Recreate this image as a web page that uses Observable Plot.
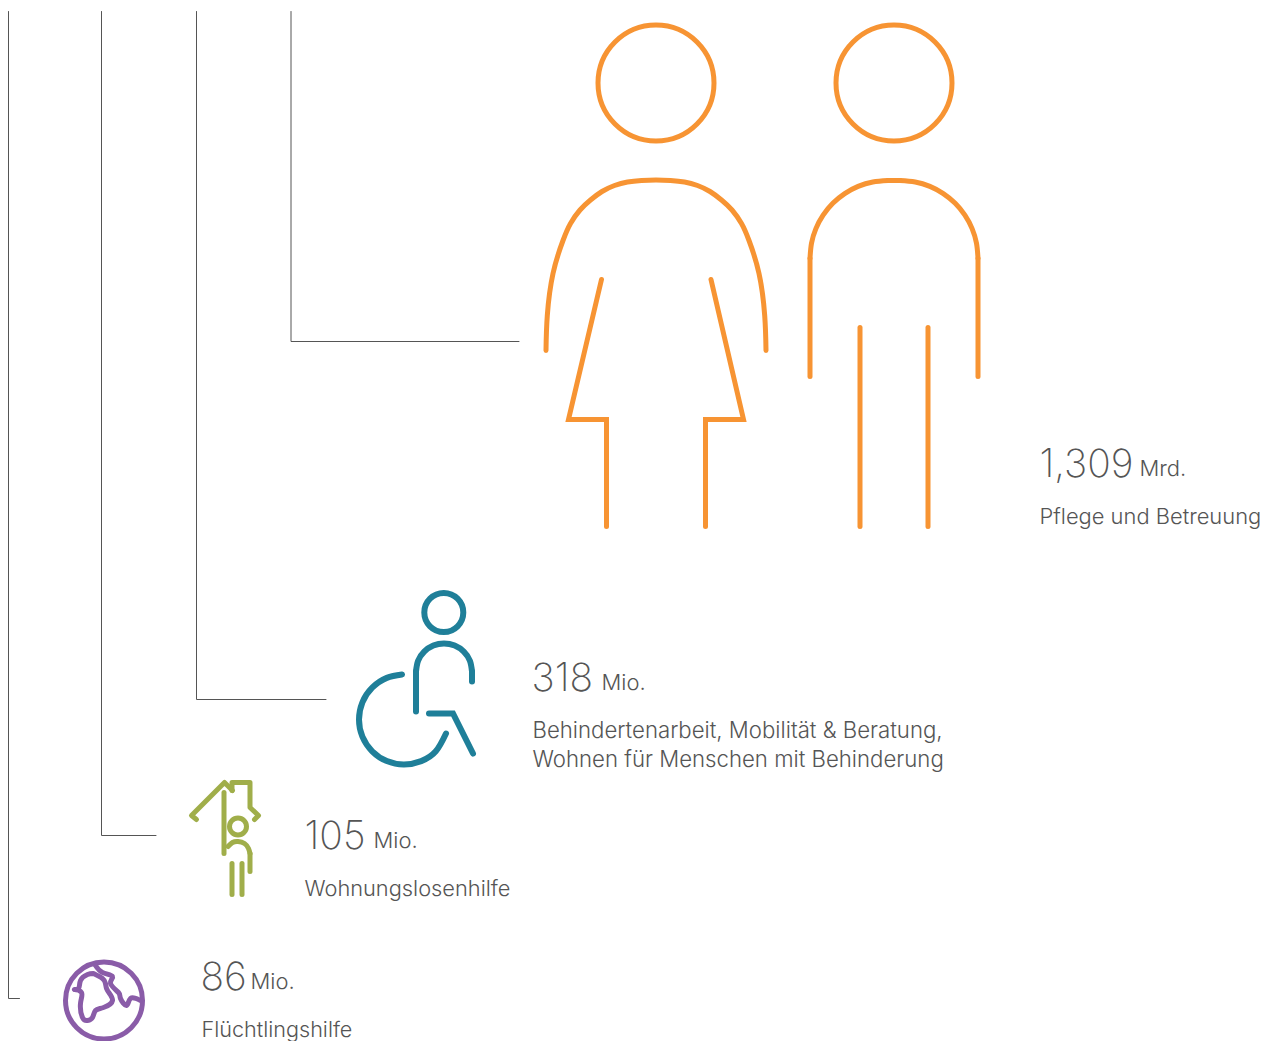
<!DOCTYPE html>
<html lang="de">
<head>
<meta charset="utf-8">
<script src="https://cdn.jsdelivr.net/npm/d3@7"></script>
<script src="https://cdn.jsdelivr.net/npm/@observablehq/plot@0.6"></script>
<style>
html,body{margin:0;padding:0;background:#fff;overflow:hidden}
svg{display:block}
</style>
</head>
<body>
<div id="chart"></div>
<script>
// Values and labels
const amounts = ["1,309", "318", "105", "86"];
const units = ["Mrd.", "Mio.", "Mio.", "Mio."];
const labels = [
  ["Pflege und Betreuung"],
  ["Behindertenarbeit, Mobilität & Beratung,", "Wohnen für Menschen mit Behinderung"],
  ["Wohnungslosenhilfe"],
  ["Flüchtlingshilfe"]
];

// Pictogram outlines and connectors
const connectors = [
  [[8,11],[8,998],[19,998]],
  [[101,11],[101,835],[155.5,835]],
  [[196,11],[196,699],[325.5,699]],
  [[290.5,11],[290.5,341],[518.5,341]]
];
const careHeads = [[655.5,82.5],[893.5,82.5]];
const careCurves = [
  [[545.5,350],[546.8,315],[552.5,273],[562.5,240],[570,223],[579.5,209.5],[590,199.5],[601.5,191],[614,185],[627,181.5],[641,180],[655.5,179.5],[670,180],[684,181.5],[697,185],[709.5,191],[721,199.5],[731.5,209.5],[741,223],[748.5,240],[758.5,273],[764.2,315],[765.5,350]],
  [[809.5,258],[811,242.8],[815.4,228.1],[822.6,214.7],[832.3,202.8],[844.2,193.1],[857.6,185.9],[872.3,181.5],[887.5,180]],
  [[899.5,180],[914.7,181.5],[929.4,185.9],[942.8,193.1],[954.7,202.8],[964.4,214.7],[971.6,228.1],[976,242.8],[977.5,258]]
];
const careLines = [
  [[601,279],[568,419],[606,419],[606,526]],
  [[710.5,279],[743,419],[705,419],[705,526]],
  [[809.5,258],[809.5,376]],
  [[977.5,258],[977.5,376]],
  [[887.5,180],[899.5,180]],
  [[859.5,327],[859.5,526]],
  [[927.5,327],[927.5,526]]
];
const disabilityHead = [[443.3,612]];
const disabilityCurves = [
  [[415.5,671],[417.6,660.3],[423.7,651.2],[432.8,645.1],[443.5,643],[454.2,645.1],[463.3,651.2],[469.4,660.3],[471.5,671]],
  [[401.5,674],[386.3,677.4],[371.7,687.2],[361.9,701.8],[358.5,719],[361.9,736.2],[371.7,750.8],[386.3,760.6],[403.5,764],[420.7,760.6],[435.3,750.8],[445.5,733]]
];
const disabilityLines = [
  [[415.5,671],[415.5,711]],
  [[471.5,671],[471.5,681]],
  [[428.5,713],[452.5,713],[472.5,753]]
];
const housingHead = [[237.5,826]];
const housingCurves = [
  [[227.5,846],[232,842],[237.5,841],[244,843],[248,848],[249.5,853]]
];
const housingLines = [
  [[196,819],[191,815],[224,782],[232,790]],
  [[231.5,790],[231.5,782],[249.5,782],[249.5,807],[258,815],[254,819]],
  [[223.5,792],[223.5,853]],
  [[249.5,853],[249.5,871]],
  [[231.5,863],[231.5,894]],
  [[241.5,863],[241.5,894]]
];
const globeRing = [[103.5,1000]];
const globeCurves = [
  [[93,973],[87,974],[80,980],[78,988],[74,989],[81,992],[80,1003],[82,1017],[87,1020],[92,1017],[95,1010],[103,1007],[112,1000],[107,990],[105,983],[102,978],[93,973]],
  [[95,965],[102,972],[112,976],[110,983],[118,992],[120,998],[126,1005],[130,998],[140,1000]]
];

// Layout of the text blocks
const amountAnchors = [[1039,476],[531,690],[304,848],[200,989]];
const unitAnchors = [[1139,475],[601,689],[373,847],[250,988]];
const labelAnchors = [[1039,523],[532,737],[304,895],[201,1036]];
const labelSizes = [21.9, 22.2, 21.8, 21.6];
const lineGap = 29.5;
const ink = "#555555";
const font = "Inter, sans-serif";
const colors = {care:"#F79433", disability:"#1F7F99", housing:"#A0AE4A", globe:"#8A5CA8"};

const pathRows = paths => paths.flatMap((p, i) => p.map(([x, y]) => ({x, y, i})));
const drawn = (paths, stroke, strokeWidth, curve = "linear", strokeLinejoin = "miter") =>
  Plot.line(pathRows(paths), {x: "x", y: "y", z: "i", stroke, strokeWidth, curve,
    strokeLinecap: "round", strokeLinejoin, strokeMiterlimit: 8});
const ring = (centres, r, stroke, strokeWidth) =>
  Plot.dot(centres, {x: d => d[0], y: d => d[1], r, stroke, strokeWidth, fill: "none"});

const amountRows = amounts.map((t, i) => ({t, x: amountAnchors[i][0], y: amountAnchors[i][1]}));
const unitRows = units.map((t, i) => ({t, x: unitAnchors[i][0], y: unitAnchors[i][1]}));
const labelRows = labels.flatMap((ls, i) => ls.map((t, j) => ({
  t, size: labelSizes[i], x: labelAnchors[i][0], y: labelAnchors[i][1] + j * lineGap})));
const textMark = (rows, fontSize, fontWeight = 300) => Plot.text(rows, {x: "x", y: "y", text: "t", fill: ink, fontSize,
  fontFamily: font, fontWeight, textAnchor: "start", lineAnchor: "bottom"});

const plot = Plot.plot({
  width: 1266, height: 1041,
  margin: 0,
  style: {background: "#fff", fontFamily: font},
  x: {domain: [0, 1266], range: [0, 1266], axis: null},
  y: {domain: [0, 1041], range: [0, 1041], axis: null},
  marks: [
    drawn(connectors, ink, 1),
    ring(careHeads, 58, colors.care, 5),
    drawn(careCurves, colors.care, 5, "natural"),
    drawn(careLines, colors.care, 5),
    ring(disabilityHead, 19.5, colors.disability, 6),
    drawn(disabilityCurves, colors.disability, 6, "natural"),
    drawn(disabilityLines, colors.disability, 6),
    ring(housingHead, 8.5, colors.housing, 5),
    drawn(housingCurves, colors.housing, 5, "natural"),
    drawn(housingLines, colors.housing, 5, "linear", "round"),
    ring(globeRing, 38.5, colors.globe, 5),
    drawn(globeCurves, colors.globe, 5, "natural", "round"),
    textMark(amountRows, 39, 250),
    textMark(unitRows, 22),
    textMark(labelRows, d => d.size)
  ]
});
document.getElementById("chart").append(plot);
</script>
</body>
</html>
